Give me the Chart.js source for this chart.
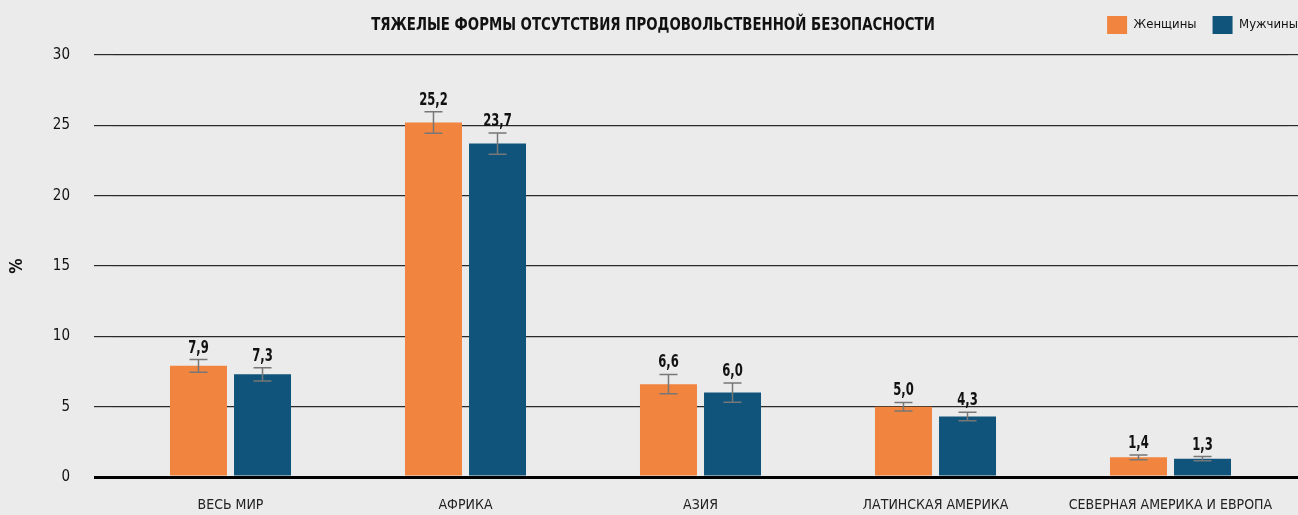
<!DOCTYPE html>
<html>
<head>
<meta charset="utf-8">
<script src="https://cdn.jsdelivr.net/npm/chart.js@4/dist/chart.umd.min.js"></script>
<style>
  html, body { margin: 0; padding: 0; background: #ebebeb; }
  #wrap { position: relative; width: 1298px; height: 515px; }
  #title { position: absolute; left: 0; width: 1306px; top: 13px; text-align: center;
    transform: scaleX(0.823); transform-origin: 653px 0;
    font-family: "DejaVu Sans Condensed", "Noto Sans", sans-serif;
    font-weight: bold; font-size: 18px; color: #111; white-space: nowrap; }
</style>
</head>
<body>
<div id="wrap">
  <canvas id="c" width="1298" height="515"></canvas>
  <div id="title">ТЯЖЕЛЫЕ ФОРМЫ ОТСУТСТВИЯ ПРОДОВОЛЬСТВЕННОЙ БЕЗОПАСНОСТИ</div>
</div>
<script>
const categories = ['ВЕСЬ МИР', 'АФРИКА', 'АЗИЯ', 'ЛАТИНСКАЯ АМЕРИКА', 'СЕВЕРНАЯ АМЕРИКА И ЕВРОПА'];
const women = [7.9, 25.2, 6.6, 5.0, 1.4];
const men = [7.3, 23.7, 6.0, 4.3, 1.3];
const womenErr = [0.45, 0.76, 0.69, 0.3, 0.17];
const menErr = [0.47, 0.75, 0.69, 0.3, 0.15];
const yTicks = [0, 5, 10, 15, 20, 25, 30];

const FONT = '"DejaVu Sans Condensed", "Noto Sans", sans-serif';
const ORANGE = '#f1843e';
const BLUE = '#10547b';
const LEGEND_PAD = 16;

const errorPlugin = {
  id: 'errorBars',
  beforeInit(chart) {
    const legend = chart.legend;
    if (legend) {
      const orig = legend.fit.bind(legend);
      legend.fit = function () { orig(); this.height += 11; };
    }
  },
  afterLayout(chart) {
    const legend = chart.legend;
    if (legend) { legend.left += LEGEND_PAD; legend.right += LEGEND_PAD; }
  },
  afterDatasetsDraw(chart) {
    const ctx = chart.ctx;
    const y = chart.scales.y;
    chart.data.datasets.forEach((ds, di) => {
      const meta = chart.getDatasetMeta(di);
      meta.data.forEach((bar, i) => {
        const v = ds.data[i];
        const e = ds.errors[i];
        const yt = y.getPixelForValue(v + e);
        const yb = y.getPixelForValue(v - e);
        const x = bar.x;
        ctx.save();
        ctx.strokeStyle = '#777777';
        ctx.lineWidth = 1.5;
        ctx.beginPath();
        ctx.moveTo(x, yt); ctx.lineTo(x, yb);
        ctx.moveTo(x - 9, yt); ctx.lineTo(x + 9, yt);
        ctx.moveTo(x - 9, yb); ctx.lineTo(x + 9, yb);
        ctx.stroke();
        ctx.fillStyle = '#111';
        ctx.font = 'bold 17px ' + FONT;
        ctx.textAlign = 'center';
        ctx.textBaseline = 'alphabetic';
        ctx.translate(x, yt - 7);
        ctx.scale(0.76, 1);
        ctx.fillText(v.toFixed(1).replace('.', ','), 0, 0);
        ctx.restore();
      });
    });
  }
};

new Chart(document.getElementById('c'), {
  type: 'bar',
  data: {
    labels: categories,
    datasets: [
      { label: 'Женщины', data: women, errors: womenErr, backgroundColor: ORANGE,
        categoryPercentage: 0.545, barPercentage: 0.89 },
      { label: 'Мужчины', data: men, errors: menErr, backgroundColor: BLUE,
        categoryPercentage: 0.545, barPercentage: 0.89 }
    ]
  },
  options: {
    responsive: false,
    animation: false,
    layout: { padding: 0 },
    plugins: {
      legend: {
        position: 'top', align: 'end',
        labels: { boxWidth: 20, boxHeight: 18, color: '#111', padding: LEGEND_PAD,
          font: { family: FONT, size: 13 } }
      },
      title: { display: false },
      tooltip: { enabled: false }
    },
    scales: {
      x: {
        grid: { display: false },
        border: { display: false },
        afterFit(axis) { axis.height = 38; },
        ticks: { color: '#222', padding: 12, maxRotation: 0, minRotation: 0,
          font: { family: FONT, size: 14 } }
      },
      y: {
        min: 0, max: 30,
        afterBuildTicks(axis) { axis.ticks = yTicks.map(v => ({ value: v })); },
        afterFit(axis) { axis.width = 113; },
        border: { display: false },
        grid: {
          color: ctx => ctx.tick && ctx.tick.value === 0 ? '#000' : '#2a2a2a',
          lineWidth: ctx => ctx.tick && ctx.tick.value === 0 ? 3 : 1.2,
          drawTicks: true, tickLength: 19
        },
        ticks: { color: '#111', padding: 24, font: { family: FONT, size: 15 } },
        title: { display: true, text: '%', color: '#111', padding: { top: 7, bottom: 0 },
          font: { family: FONT, size: 17, weight: 'bold' } }
      },
      y2: {
        position: 'right', min: 0, max: 30,
        afterBuildTicks(axis) { axis.ticks = yTicks.map(v => ({ value: v })); },
        border: { display: false },
        ticks: { display: false },
        grid: {
          drawOnChartArea: false, drawTicks: true, tickLength: 10,
          color: ctx => ctx.tick && ctx.tick.value === 0 ? '#000' : '#2a2a2a',
          lineWidth: ctx => ctx.tick && ctx.tick.value === 0 ? 3 : 1.2
        }
      }
    }
  },
  plugins: [errorPlugin]
});
</script>
</body>
</html>
